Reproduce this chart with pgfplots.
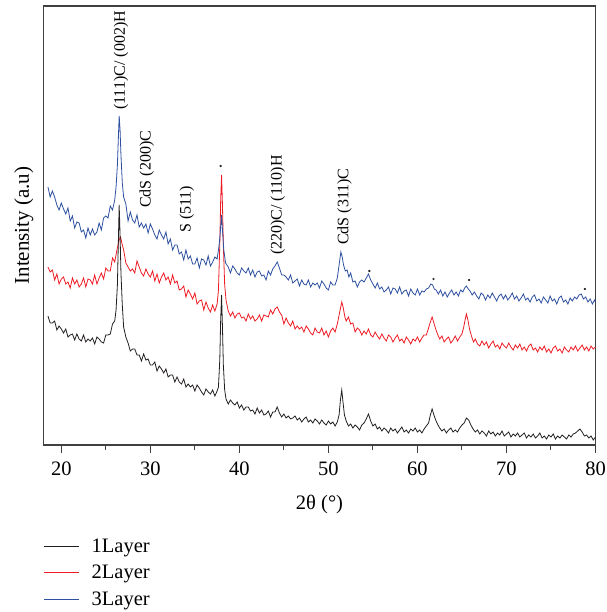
\documentclass[border=0pt]{standalone}
\usepackage{fontspec}
\setmainfont{Liberation Serif}
\usepackage{pgfplots}
\pgfplotsset{compat=1.18}
\definecolor{cblack}{RGB}{35,31,32}
\definecolor{cred}{RGB}{237,28,36}
\definecolor{cblue}{RGB}{46,80,160}
\definecolor{caxis}{RGB}{64,64,64}
\begin{document}
\begin{tikzpicture}
\useasboundingbox (-43.5pt,-167pt) rectangle (562.5pt,445pt);
\begin{axis}[
  scale only axis,
  width=552pt, height=439pt,
  xmin=18, xmax=80, ymin=0, ymax=439,
  axis line style={caxis, line width=1.1pt},
  xtick={20,30,...,80},
  minor x tick num=1,
  ytick=\empty,
  xtick pos=bottom,
  tick align=outside,
  major tick length=8pt,
  minor tick length=4.5pt,
  every tick/.style={caxis, line width=1pt},
  font=\fontsize{20.5}{24}\selectfont,
  /pgf/number format/assume math mode=true,
  xticklabel style={font=\fontsize{20.5}{24}\selectfont, yshift=-5pt},
  xlabel={2θ (°)},
  ylabel={Intensity (a.u)},
  every axis y label/.style={at={(axis description cs:-0.018,0.5)}, rotate=90, anchor=south, inner sep=0pt, font=\fontsize{21}{25}\selectfont},
  every axis x label/.style={at={(axis description cs:0.5,0)}, anchor=north, yshift=-50pt, inner sep=0pt, font=\fontsize{20.5}{24}\selectfont},
  legend style={at={(axis description cs:0,-0.208)}, anchor=north west, draw=none, fill=none, inner sep=0pt, row sep=7.5pt, font=\fontsize{20.5}{24}\selectfont, /tikz/every odd column/.append style={column sep=10pt}},
  legend cell align=left,
  legend image code/.code={\draw[#1] (0pt,0pt) -- (35pt,0pt);},
  clip=true,
]
\addlegendimage{cblack, line width=1pt}
\addlegendimage{cred, line width=1pt}
\addlegendimage{cblue, line width=1pt}
\legend{1Layer, 2Layer, 3Layer}

% 2Layer (red)
\addplot[cred, line width=0.8pt, forget plot] coordinates {
(18.50,178) (18.75,173) (19.00,175) (19.25,165) (19.50,171) (19.75,161) (20.00,166) (20.25,168) (20.50,161) (20.75,163)
(21.00,157) (21.25,167) (21.50,161) (21.75,165) (22.00,158) (22.25,161) (22.50,167) (22.75,158) (23.00,166) (23.25,165)
(23.50,161) (23.75,170) (24.00,161) (24.25,167) (24.50,172) (24.75,166) (25.00,177) (25.25,174) (25.50,174) (25.75,187)
(26.00,183) (26.25,195) (26.50,205) (26.65,208) (26.80,202) (27.00,195) (27.25,182) (27.50,178) (27.75,174) (28.00,176)
(28.25,172) (28.50,184) (28.75,178) (29.00,172) (29.25,169) (29.50,176) (29.75,171) (30.00,168) (30.25,174) (30.50,164)
(30.75,171) (31.00,162) (31.25,168) (31.50,172) (31.75,165) (32.00,168) (32.25,161) (32.50,170) (32.75,162) (33.00,164)
(33.25,155) (33.50,156) (33.75,159) (34.00,148) (34.25,155) (34.50,151) (34.75,146) (35.00,152) (35.25,141) (35.50,144)
(35.75,145) (36.00,135) (36.25,143) (36.50,137) (36.75,133) (37.00,140) (37.25,134) (37.50,141) (37.65,155) (37.80,200)
(37.90,245) (38.00,270) (38.10,240) (38.20,200) (38.35,160) (38.50,145) (38.75,134) (39.00,129) (39.25,133) (39.50,127)
(39.75,131) (40.00,132) (40.25,127) (40.50,128) (40.75,124) (41.00,131) (41.25,126) (41.50,129) (41.75,124) (42.00,126)
(42.25,130) (42.50,124) (42.75,130) (43.00,129) (43.25,128) (43.50,135) (43.75,131) (44.00,136) (44.25,138) (44.50,133)
(44.75,130) (45.00,121) (45.25,127) (45.50,122) (45.75,119) (46.00,124) (46.25,116) (46.50,119) (46.75,116) (47.00,118)
(47.25,113) (47.50,119) (47.75,116) (48.00,112) (48.25,110) (48.50,117) (48.75,113) (49.00,112) (49.25,117) (49.50,110)
(49.75,114) (50.00,108) (50.25,114) (50.50,117) (50.75,113) (51.00,121) (51.25,132) (51.50,143) (51.65,138) (51.85,128)
(52.00,124) (52.25,128) (52.50,121) (52.75,122) (53.00,113) (53.25,117) (53.50,115) (53.75,110) (54.00,114) (54.25,111)
(54.50,116) (54.75,110) (55.00,108) (55.25,113) (55.50,109) (55.75,106) (56.00,111) (56.25,107) (56.50,104) (56.75,110)
(57.00,108) (57.25,103) (57.50,107) (57.75,110) (58.00,104) (58.25,106) (58.50,102) (58.75,108) (59.00,105) (59.25,101)
(59.50,106) (59.75,104) (60.00,108) (60.25,103) (60.50,107) (60.75,110) (61.00,110) (61.25,117) (61.45,123) (61.65,128)
(61.85,122) (62.05,116) (62.25,111) (62.50,106) (62.75,109) (63.00,103) (63.25,106) (63.50,108) (63.75,102) (64.00,105)
(64.25,109) (64.50,104) (64.75,108) (65.00,111) (65.20,118) (65.35,125) (65.50,131) (65.65,126) (65.85,116) (66.10,108)
(66.30,103) (66.50,106) (66.75,101) (67.00,99) (67.25,104) (67.50,100) (67.75,103) (68.00,97) (68.25,101) (68.50,104)
(68.75,98) (69.00,100) (69.25,96) (69.50,102) (69.75,99) (70.00,97) (70.25,102) (70.50,98) (70.75,95) (71.00,100)
(71.25,97) (71.50,101) (71.75,95) (72.00,98) (72.25,94) (72.50,99) (72.75,101) (73.00,95) (73.25,97) (73.50,93)
(73.75,98) (74.00,95) (74.25,99) (74.50,93) (74.75,96) (75.00,92) (75.25,97) (75.50,99) (75.75,94) (76.00,96)
(76.25,92) (76.50,98) (76.75,95) (77.00,93) (77.25,98) (77.50,95) (77.75,99) (78.00,94) (78.25,97) (78.50,100)
(78.75,95) (79.00,98) (79.25,94) (79.50,99) (79.75,96) (80.00,98)
};

% 3Layer (blue)
\addplot[cblue, line width=0.8pt, forget plot] coordinates {
(18.50,258) (18.75,248) (19.00,254) (19.25,248) (19.50,240) (19.75,235) (20.00,242) (20.25,236) (20.50,231) (20.75,237)
(21.00,224) (21.25,229) (21.50,217) (21.75,223) (22.00,222) (22.25,213) (22.50,215) (22.75,207) (23.00,217) (23.25,210)
(23.50,216) (23.75,210) (24.00,213) (24.25,222) (24.50,215) (24.75,227) (25.00,229) (25.25,227) (25.50,239) (25.75,235)
(26.00,245) (26.15,258) (26.30,280) (26.40,305) (26.50,329) (26.60,315) (26.70,290) (26.85,262) (27.00,248) (27.25,241)
(27.50,224) (27.75,233) (28.00,225) (28.25,222) (28.50,230) (28.75,218) (29.00,222) (29.25,217) (29.50,221) (29.75,212)
(30.00,221) (30.25,216) (30.50,210) (30.75,206) (31.00,215) (31.25,210) (31.50,206) (31.75,213) (32.00,201) (32.25,206)
(32.50,195) (32.75,200) (33.00,200) (33.25,191) (33.50,193) (33.75,185) (34.00,195) (34.25,186) (34.50,189) (34.75,181)
(35.00,181) (35.25,187) (35.50,177) (35.75,186) (36.00,185) (36.25,180) (36.50,189) (36.75,179) (37.00,183) (37.25,188)
(37.50,186) (37.70,198) (37.85,212) (38.00,230) (38.10,215) (38.25,195) (38.45,182) (38.60,180) (38.75,178) (39.00,172)
(39.25,179) (39.50,176) (39.75,172) (40.00,170) (40.25,177) (40.50,174) (40.75,172) (41.00,177) (41.25,170) (41.50,175)
(41.75,168) (42.00,173) (42.25,174) (42.50,169) (42.75,170) (43.00,165) (43.25,174) (43.50,170) (43.75,176) (44.00,179)
(44.25,183) (44.50,177) (44.75,170) (45.00,170) (45.25,168) (45.50,165) (45.75,170) (46.00,162) (46.25,164) (46.50,166)
(46.75,159) (47.00,165) (47.25,161) (47.50,160) (47.75,165) (48.00,158) (48.25,162) (48.50,160) (48.75,162) (49.00,157)
(49.25,164) (49.50,161) (49.75,157) (50.00,155) (50.25,163) (50.50,160) (50.75,160) (51.00,167) (51.20,180) (51.40,193)
(51.55,188) (51.70,180) (51.90,174) (52.10,175) (52.30,168) (52.50,172) (52.75,163) (53.00,164) (53.25,158) (53.50,163)
(53.75,165) (54.00,163) (54.25,167) (54.50,171) (54.75,165) (55.00,161) (55.25,157) (55.50,162) (55.75,156) (56.00,158)
(56.25,153) (56.50,155) (56.75,158) (57.00,151) (57.25,157) (57.50,156) (57.75,152) (58.00,158) (58.25,151) (58.50,154)
(58.75,155) (59.00,149) (59.25,156) (59.50,152) (59.75,150) (60.00,156) (60.25,150) (60.50,154) (60.75,153) (61.00,156)
(61.25,157) (61.50,161) (61.70,160) (61.90,156) (62.10,155) (62.35,151) (62.60,155) (62.85,149) (63.10,153) (63.35,148)
(63.60,152) (63.85,155) (64.10,150) (64.35,153) (64.60,149) (64.85,155) (65.10,153) (65.30,157) (65.50,159) (65.70,156)
(65.90,154) (66.15,150) (66.40,153) (66.65,149) (66.90,146) (67.15,152) (67.40,150) (67.65,145) (67.90,150) (68.15,147)
(68.40,152) (68.65,148) (68.90,144) (69.15,149) (69.40,151) (69.65,146) (69.90,150) (70.15,145) (70.40,148) (70.65,152)
(70.90,146) (71.15,149) (71.40,144) (71.65,147) (71.90,151) (72.15,145) (72.40,147) (72.65,143) (72.90,148) (73.15,150)
(73.40,144) (73.65,146) (73.90,142) (74.15,148) (74.40,145) (74.65,142) (74.90,149) (75.15,144) (75.40,146) (75.65,141)
(75.90,147) (76.15,149) (76.40,143) (76.65,145) (76.90,141) (77.15,147) (77.40,144) (77.65,148) (77.90,146) (78.15,150)
(78.40,151) (78.65,146) (78.90,148) (79.15,143) (79.40,146) (79.65,141) (79.90,145) (80.00,143)
};

% 1Layer (black)
\addplot[cblack, line width=0.8pt, forget plot] coordinates {
(18.50,129) (18.75,122) (19.00,122) (19.25,124) (19.50,115) (19.75,119) (20.00,116) (20.25,112) (20.50,116) (20.75,108)
(21.00,110) (21.25,111) (21.50,105) (21.75,111) (22.00,106) (22.25,104) (22.50,110) (22.75,103) (23.00,106) (23.25,104)
(23.50,107) (23.75,101) (24.00,108) (24.25,106) (24.50,103) (24.75,102) (25.00,110) (25.25,110) (25.50,111) (25.75,121)
(26.00,124) (26.15,135) (26.30,160) (26.40,200) (26.50,240) (26.60,210) (26.70,172) (26.85,140) (27.00,118) (27.25,108)
(27.50,102) (27.75,94) (28.00,96) (28.25,96) (28.50,90) (28.75,90) (29.00,84) (29.25,91) (29.50,85) (29.75,86)
(30.00,80) (30.25,80) (30.50,83) (30.75,74) (31.00,79) (31.25,76) (31.50,72) (31.75,76) (32.00,68) (32.25,70)
(32.50,70) (32.75,63) (33.00,68) (33.25,63) (33.50,61) (33.75,66) (34.00,58) (34.25,61) (34.50,58) (34.75,60)
(35.00,54) (35.25,60) (35.50,57) (35.75,53) (36.00,50) (36.25,56) (36.50,53) (36.75,51) (37.00,55) (37.25,49)
(37.50,54) (37.65,58) (37.80,85) (37.90,125) (38.00,150) (38.10,118) (38.20,80) (38.35,55) (38.50,46) (38.75,41)
(39.00,45) (39.25,42) (39.50,40) (39.75,43) (40.00,37) (40.25,40) (40.50,35) (40.75,38) (41.00,38) (41.25,34)
(41.50,35) (41.75,31) (42.00,37) (42.25,32) (42.50,35) (42.75,30) (43.00,31) (43.25,34) (43.50,28) (43.75,33)
(44.00,33) (44.25,38) (44.50,32) (44.75,28) (45.00,31) (45.25,27) (45.50,29) (45.75,26) (46.00,27) (46.25,29)
(46.50,25) (46.75,27) (47.00,23) (47.25,26) (47.50,28) (47.75,23) (48.00,25) (48.25,22) (48.50,26) (48.75,24)
(49.00,21) (49.25,25) (49.50,22) (49.75,20) (50.00,24) (50.25,21) (50.50,23) (50.75,19) (51.00,23) (51.20,30)
(51.35,45) (51.50,55) (51.65,42) (51.80,30) (52.00,24) (52.25,19) (52.50,21) (52.75,17) (53.00,20) (53.25,18)
(53.50,15) (53.75,20) (54.00,22) (54.25,26) (54.50,31) (54.75,24) (55.00,19) (55.25,21) (55.50,16) (55.75,18)
(56.00,14) (56.25,17) (56.50,15) (56.75,12) (57.00,17) (57.25,14) (57.50,16) (57.75,12) (58.00,15) (58.25,18)
(58.50,13) (58.75,15) (59.00,12) (59.25,16) (59.50,14) (59.75,17) (60.00,13) (60.25,15) (60.50,12) (60.75,16)
(61.00,19) (61.25,22) (61.45,30) (61.65,36) (61.85,30) (62.05,25) (62.25,21) (62.50,17) (62.75,14) (63.00,16)
(63.25,12) (63.50,15) (63.75,17) (64.00,13) (64.25,15) (64.50,13) (64.75,17) (65.00,20) (65.25,22) (65.50,27)
(65.75,25) (66.00,20) (66.25,16) (66.50,13) (66.75,15) (67.00,11) (67.25,14) (67.50,12) (67.75,9) (68.00,14)
(68.25,11) (68.50,13) (68.75,9) (69.00,12) (69.25,10) (69.50,14) (69.75,9) (70.00,11) (70.25,13) (70.50,8)
(70.75,11) (71.00,9) (71.25,12) (71.50,8) (71.75,10) (72.00,12) (72.25,7) (72.50,10) (72.75,8) (73.00,11)
(73.25,7) (73.50,9) (73.75,12) (74.00,7) (74.25,9) (74.50,6) (74.75,10) (75.00,8) (75.25,11) (75.50,6)
(75.75,9) (76.00,7) (76.25,10) (76.50,8) (76.75,6) (77.00,10) (77.25,8) (77.50,11) (77.75,12) (78.00,14)
(78.25,16) (78.50,13) (78.75,9) (79.00,10) (79.25,7) (79.50,9) (79.75,5) (80.00,8)
};

% peak markers
\addplot[only marks, mark=*, mark size=0.9pt, cblack, forget plot] coordinates {
(37.9,279) (54.6,174) (61.8,166) (65.8,165) (78.8,156)
};

\node[rotate=90, anchor=west, inner sep=0pt, font=\fontsize{16}{19}\selectfont] at (axis cs:26.7,335) {(111)C/ (002)H};
\node[rotate=90, anchor=west, inner sep=0pt, font=\fontsize{16}{19}\selectfont] at (axis cs:29.6,237) {CdS (200)C};
\node[rotate=90, anchor=west, inner sep=0pt, font=\fontsize{16}{19}\selectfont] at (axis cs:34.1,212) {S (511)};
\node[rotate=90, anchor=west, inner sep=0pt, font=\fontsize{16}{19}\selectfont] at (axis cs:44.3,190) {(220)C/ (110)H};
\node[rotate=90, anchor=west, inner sep=0pt, font=\fontsize{16}{19}\selectfont] at (axis cs:51.8,200) {CdS (311)C};
\end{axis}
\end{tikzpicture}
\end{document}
